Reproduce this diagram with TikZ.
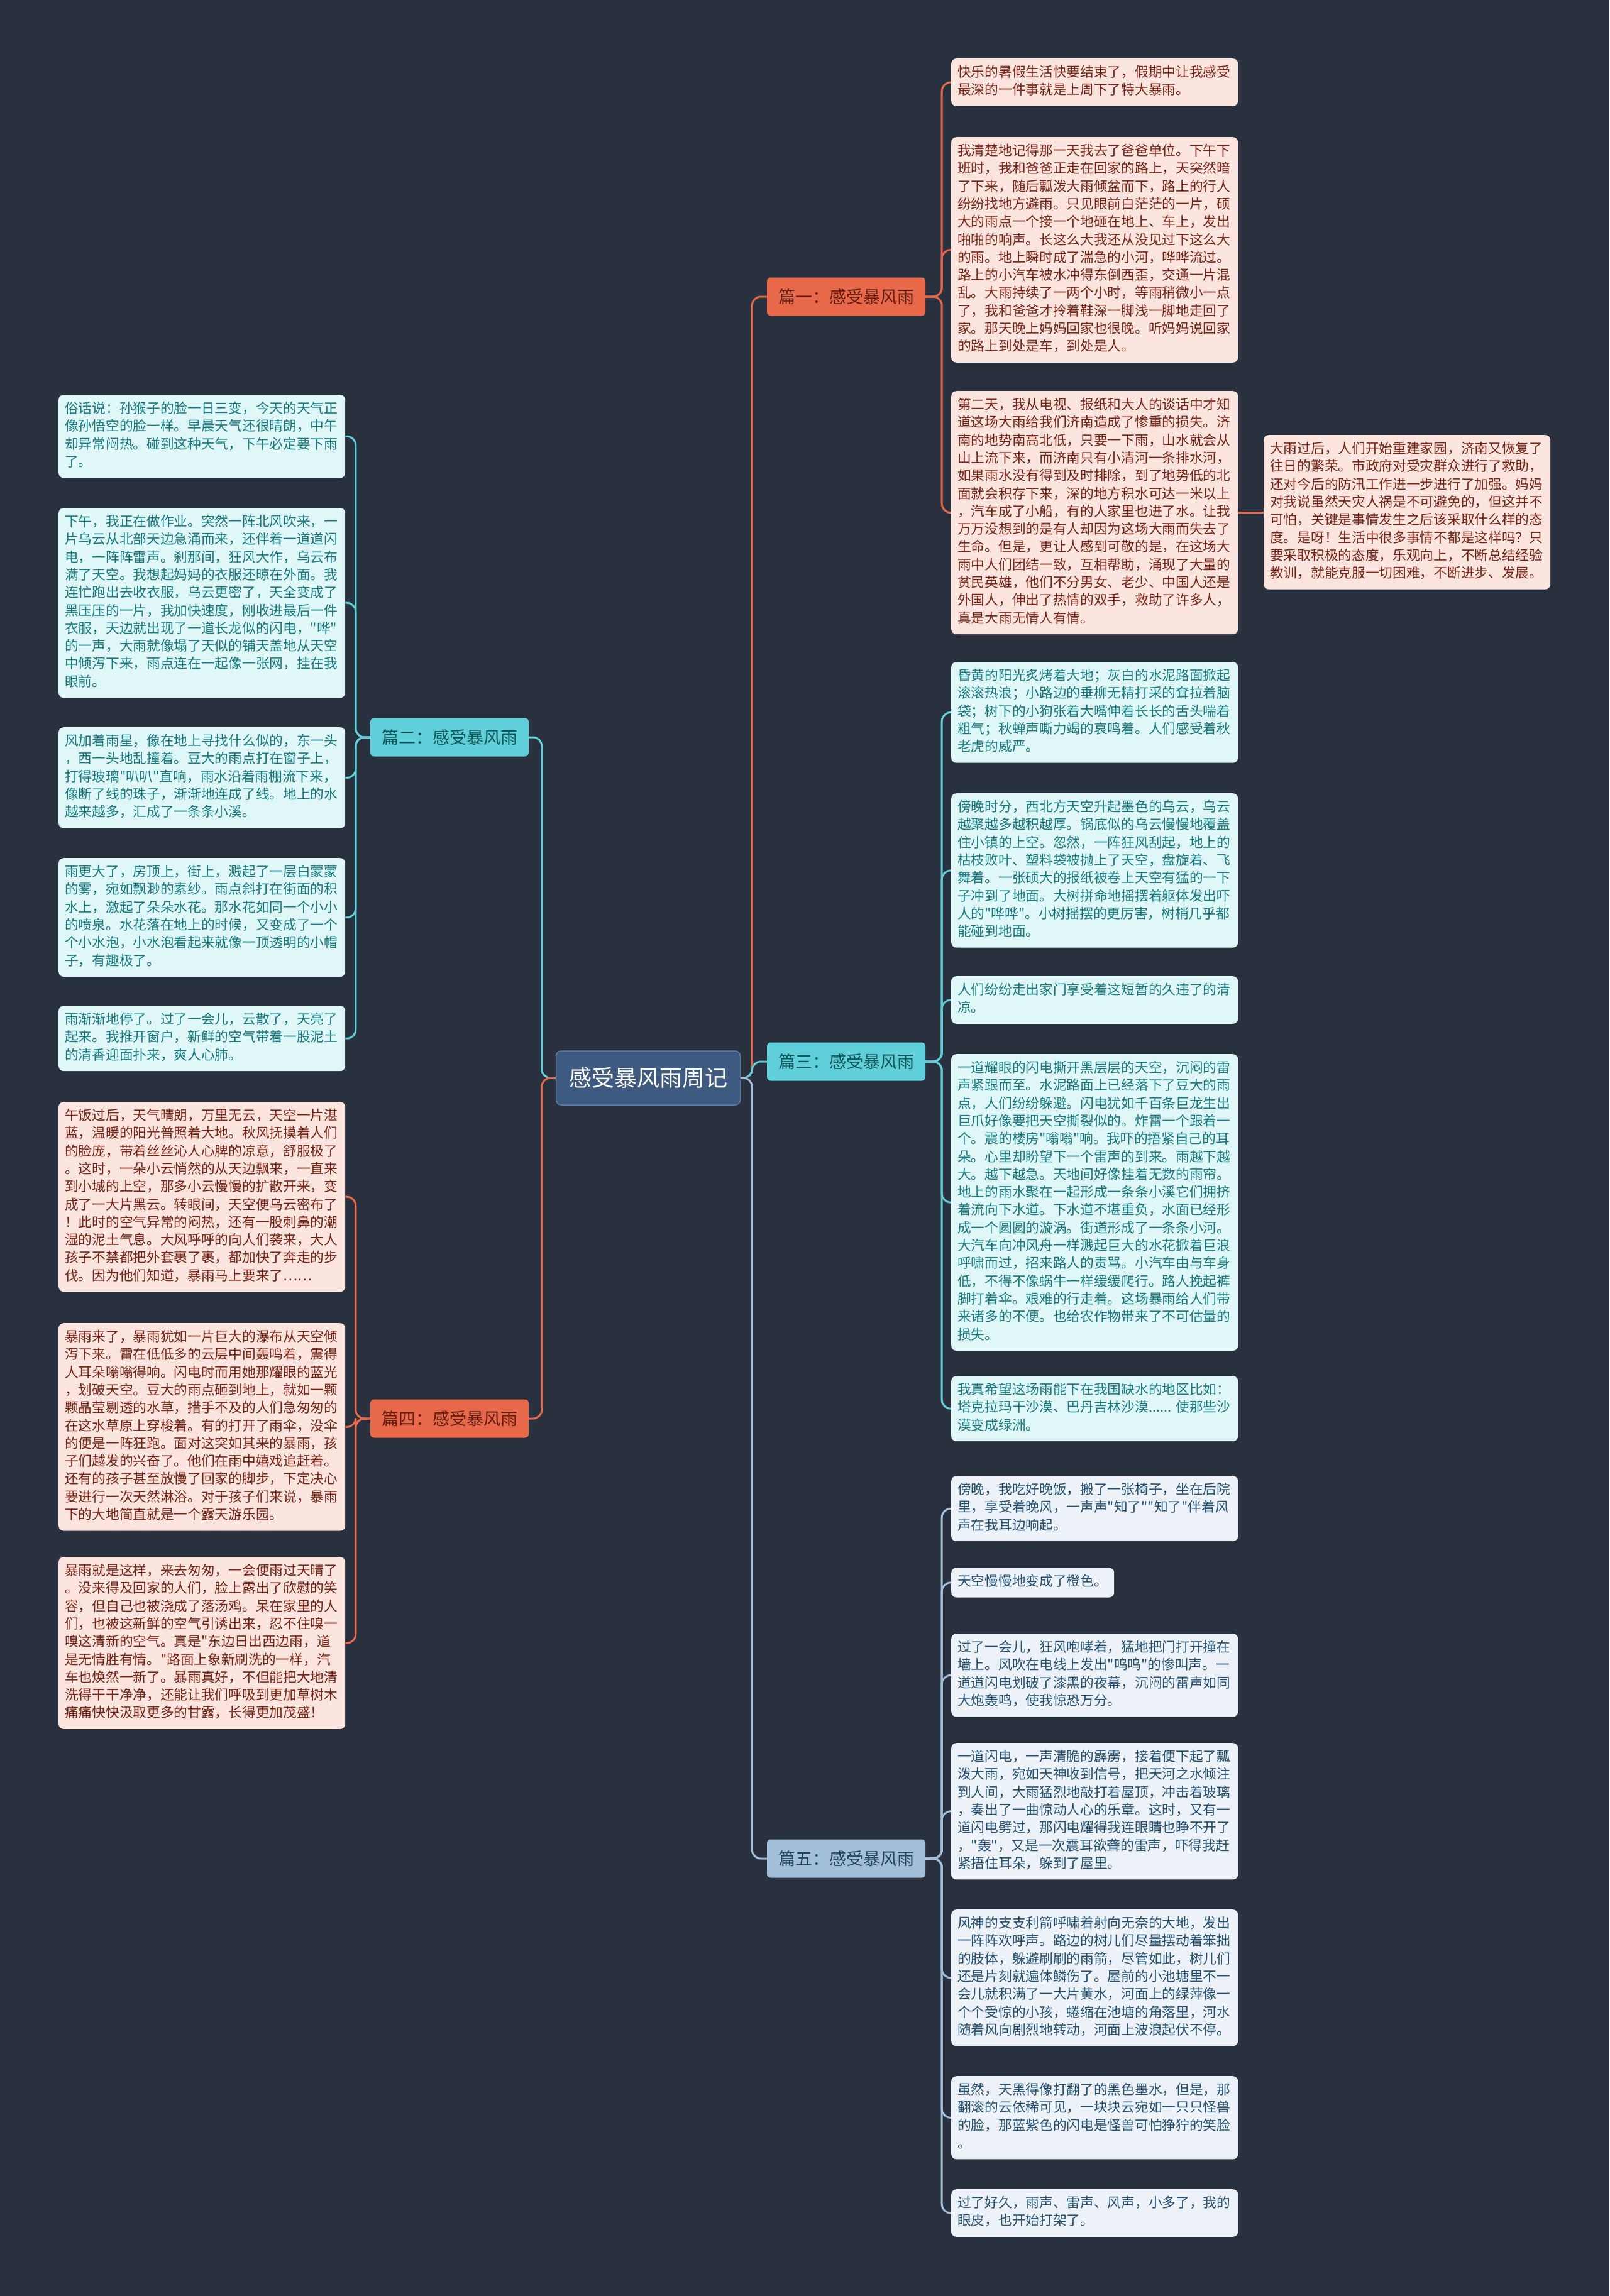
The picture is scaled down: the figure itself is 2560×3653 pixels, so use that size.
\documentclass[tikz,border=0pt]{standalone}
\usepackage{fontspec}
\newfontfamily\cjk{Noto Sans CJK SC}
\definecolor{bg}{HTML}{29313F}
\definecolor{corange}{HTML}{E8694A}
\definecolor{ccyan}{HTML}{5FD0D9}
\definecolor{cblue}{HTML}{A3BFD9}
\definecolor{centerfill}{HTML}{3F5A80}
\definecolor{centerdraw}{HTML}{5C7BA5}
\definecolor{ofill}{HTML}{FCE5DF}
\definecolor{otext}{HTML}{7A2314}
\definecolor{cfill}{HTML}{E0F7F8}
\definecolor{ctext}{HTML}{167A80}
\definecolor{bfill}{HTML}{ECF2F7}
\definecolor{btext}{HTML}{235073}
\tikzset{
  leafbase/.style={rounded corners=8pt, anchor=north west, align=left,
    text width=436pt, inner xsep=10pt, inner ysep=9.5pt,
    font=\cjk\fontsize{21.7pt}{28.3pt}\selectfont,
    execute at begin node=\strut, execute at end node=\strut},
  leafO/.style={leafbase, fill=ofill, text=otext},
  leafC/.style={leafbase, fill=cfill, text=ctext},
  leafB/.style={leafbase, fill=bfill, text=btext},
  branchbase/.style={rounded corners=6pt, minimum width=252pt, minimum height=61pt,
    inner sep=0pt, font=\cjk\fontsize{27pt}{32pt}\selectfont},
  branchO/.style={branchbase, fill=corange, text=otext!80!black},
  branchC/.style={branchbase, fill=ccyan, text=ctext!70!black},
  branchB/.style={branchbase, fill=cblue, text=btext!85!black},
  conn/.style={line width=3pt, rounded corners=14pt},
}
\begin{document}
\begin{tikzpicture}[x=1pt,y=-1pt]
\useasboundingbox (0,0) rectangle (2560,3653);
\fill[bg] (0,0) rectangle (2560,3653);

% center and branches
\node[rounded corners=8pt, fill=centerfill, draw=centerdraw, line width=1.5pt,
  minimum width=293pt, minimum height=86pt, text=white,
  font=\cjk\fontsize{36pt}{40pt}\selectfont] (c) at (1031,1715) {感受暴风雨周记};
\node[branchO] (b1) at (1346,472) {篇一：感受暴风雨};
\node[branchC] (b2) at (715,1173) {篇二：感受暴风雨};
\node[branchC] (b3) at (1346,1689) {篇三：感受暴风雨};
\node[branchO] (b4) at (715,2257) {篇四：感受暴风雨};
\node[branchB] (b5) at (1346,2957) {篇五：感受暴风雨};

% 篇一 leaves
\node[leafO] (L1) at (1513,93) {快乐的暑假生活快要结束了，假期中让我感受\\
最深的一件事就是上周下了特大暴雨。};
\node[leafO] (L2) at (1513,218) {我清楚地记得那一天我去了爸爸单位。下午下\\
班时，我和爸爸正走在回家的路上，天突然暗\\
了下来，随后瓢泼大雨倾盆而下，路上的行人\\
纷纷找地方避雨。只见眼前白茫茫的一片，硕\\
大的雨点一个接一个地砸在地上、车上，发出\\
啪啪的响声。长这么大我还从没见过下这么大\\
的雨。地上瞬时成了湍急的小河，哗哗流过。\\
路上的小汽车被水冲得东倒西歪，交通一片混\\
乱。大雨持续了一两个小时，等雨稍微小一点\\
了，我和爸爸才拎着鞋深一脚浅一脚地走回了\\
家。那天晚上妈妈回家也很晚。听妈妈说回家\\
的路上到处是车，到处是人。};
\node[leafO] (L3) at (1513,622) {第二天，我从电视、报纸和大人的谈话中才知\\
道这场大雨给我们济南造成了惨重的损失。济\\
南的地势南高北低，只要一下雨，山水就会从\\
山上流下来，而济南只有小清河一条排水河，\\
如果雨水没有得到及时排除，到了地势低的北\\
面就会积存下来，深的地方积水可达一米以上\\
，汽车成了小船，有的人家里也进了水。让我\\
万万没想到的是有人却因为这场大雨而失去了\\
生命。但是，更让人感到可敬的是，在这场大\\
雨中人们团结一致，互相帮助，涌现了大量的\\
贫民英雄，他们不分男女、老少、中国人还是\\
外国人，伸出了热情的双手，救助了许多人，\\
真是大雨无情人有情。};
\node[leafO] (R1) at (2010,692) {大雨过后，人们开始重建家园，济南又恢复了\\
往日的繁荣。市政府对受灾群众进行了救助，\\
还对今后的防汛工作进一步进行了加强。妈妈\\
对我说虽然天灾人祸是不可避免的，但这并不\\
可怕，关键是事情发生之后该采取什么样的态\\
度。是呀！生活中很多事情不都是这样吗？只\\
要采取积极的态度，乐观向上，不断总结经验\\
教训，就能克服一切困难，不断进步、发展。};

% 篇二 leaves
\node[leafC] (A1) at (93,628) {俗话说：孙猴子的脸一日三变，今天的天气正\\
像孙悟空的脸一样。早晨天气还很晴朗，中午\\
却异常闷热。碰到这种天气，下午必定要下雨\\
了。};
\node[leafC] (A2) at (93,808) {下午，我正在做作业。突然一阵北风吹来，一\\
片乌云从北部天边急涌而来，还伴着一道道闪\\
电，一阵阵雷声。刹那间，狂风大作，乌云布\\
满了天空。我想起妈妈的衣服还晾在外面。我\\
连忙跑出去收衣服，乌云更密了，天全变成了\\
黑压压的一片，我加快速度，刚收进最后一件\\
衣服，天边就出现了一道长龙似的闪电，"哗"\\
的一声，大雨就像塌了天似的铺天盖地从天空\\
中倾泻下来，雨点连在一起像一张网，挂在我\\
眼前。};
\node[leafC] (A3) at (93,1157) {风加着雨星，像在地上寻找什么似的，东一头\\
，西一头地乱撞着。豆大的雨点打在窗子上，\\
打得玻璃"叭叭"直响，雨水沿着雨棚流下来，\\
像断了线的珠子，渐渐地连成了线。地上的水\\
越来越多，汇成了一条条小溪。};
\node[leafC] (A4) at (93,1365) {雨更大了，房顶上，街上，溅起了一层白蒙蒙\\
的雾，宛如飘渺的素纱。雨点斜打在街面的积\\
水上，激起了朵朵水花。那水花如同一个小小\\
的喷泉。水花落在地上的时候，又变成了一个\\
个小水泡，小水泡看起来就像一顶透明的小帽\\
子，有趣极了。};
\node[leafC] (A5) at (93,1600) {雨渐渐地停了。过了一会儿，云散了，天亮了\\
起来。我推开窗户，新鲜的空气带着一股泥土\\
的清香迎面扑来，爽人心肺。};

% 篇四 leaves
\node[leafO] (B1) at (93,1753) {午饭过后，天气晴朗，万里无云，天空一片湛\\
蓝，温暖的阳光普照着大地。秋风抚摸着人们\\
的脸庞，带着丝丝沁人心脾的凉意，舒服极了\\
。这时，一朵小云悄然的从天边飘来，一直来\\
到小城的上空，那多小云慢慢的扩散开来，变\\
成了一大片黑云。转眼间，天空便乌云密布了\\
！此时的空气异常的闷热，还有一股刺鼻的潮\\
湿的泥土气息。大风呼呼的向人们袭来，大人\\
孩子不禁都把外套裹了裹，都加快了奔走的步\\
伐。因为他们知道，暴雨马上要来了……};
\node[leafO] (B2) at (93,2105) {暴雨来了，暴雨犹如一片巨大的瀑布从天空倾\\
泻下来。雷在低低多的云层中间轰鸣着，震得\\
人耳朵嗡嗡得响。闪电时而用她那耀眼的蓝光\\
，划破天空。豆大的雨点砸到地上，就如一颗\\
颗晶莹剔透的水草，措手不及的人们急匆匆的\\
在这水草原上穿梭着。有的打开了雨伞，没伞\\
的便是一阵狂跑。面对这突如其来的暴雨，孩\\
子们越发的兴奋了。他们在雨中嬉戏追赶着。\\
还有的孩子甚至放慢了回家的脚步，下定决心\\
要进行一次天然淋浴。对于孩子们来说，暴雨\\
下的大地简直就是一个露天游乐园。};
\node[leafO] (B3) at (93,2477) {暴雨就是这样，来去匆匆，一会便雨过天晴了\\
。没来得及回家的人们，脸上露出了欣慰的笑\\
容，但自己也被浇成了落汤鸡。呆在家里的人\\
们，也被这新鲜的空气引诱出来，忍不住嗅一\\
嗅这清新的空气。真是"东边日出西边雨，道\\
是无情胜有情。"路面上象新刷洗的一样，汽\\
车也焕然一新了。暴雨真好，不但能把大地清\\
洗得干干净净，还能让我们呼吸到更加草树木\\
痛痛快快汲取更多的甘露，长得更加茂盛！};

% 篇三 leaves
\node[leafC] (C1) at (1513,1053) {昏黄的阳光炙烤着大地；灰白的水泥路面掀起\\
滚滚热浪；小路边的垂柳无精打采的耷拉着脑\\
袋；树下的小狗张着大嘴伸着长长的舌头喘着\\
粗气；秋蝉声嘶力竭的哀鸣着。人们感受着秋\\
老虎的威严。};
\node[leafC] (C2) at (1513,1262) {傍晚时分，西北方天空升起墨色的乌云，乌云\\
越聚越多越积越厚。锅底似的乌云慢慢地覆盖\\
住小镇的上空。忽然，一阵狂风刮起，地上的\\
枯枝败叶、塑料袋被抛上了天空，盘旋着、飞\\
舞着。一张硕大的报纸被卷上天空有猛的一下\\
子冲到了地面。大树拼命地摇摆着躯体发出吓\\
人的"哗哗"。小树摇摆的更厉害，树梢几乎都\\
能碰到地面。};
\node[leafC] (C3) at (1513,1553) {人们纷纷走出家门享受着这短暂的久违了的清\\
凉。};
\node[leafC] (C4) at (1513,1677) {一道耀眼的闪电撕开黑层层的天空，沉闷的雷\\
声紧跟而至。水泥路面上已经落下了豆大的雨\\
点，人们纷纷躲避。闪电犹如千百条巨龙生出\\
巨爪好像要把天空撕裂似的。炸雷一个跟着一\\
个。震的楼房"嗡嗡"响。我吓的捂紧自己的耳\\
朵。心里却盼望下一个雷声的到来。雨越下越\\
大。越下越急。天地间好像挂着无数的雨帘。\\
地上的雨水聚在一起形成一条条小溪它们拥挤\\
着流向下水道。下水道不堪重负，水面已经形\\
成一个圆圆的漩涡。街道形成了一条条小河。\\
大汽车向冲风舟一样溅起巨大的水花掀着巨浪\\
呼啸而过，招来路人的责骂。小汽车由与车身\\
低，不得不像蜗牛一样缓缓爬行。路人挽起裤\\
脚打着伞。艰难的行走着。这场暴雨给人们带\\
来诸多的不便。也给农作物带来了不可估量的\\
损失。};
\node[leafC] (C5) at (1513,2189) {我真希望这场雨能下在我国缺水的地区比如：\\
塔克拉玛干沙漠、巴丹吉林沙漠......~使那些沙\\
漠变成绿洲。};

% 篇五 leaves
\node[leafB] (D1) at (1513,2348) {傍晚，我吃好晚饭，搬了一张椅子，坐在后院\\
里，享受着晚风，一声声"知了""知了"伴着风\\
声在我耳边响起。};
\node[leafB, text width=239pt] (D2) at (1513,2494) {天空慢慢地变成了橙色。};
\node[leafB] (D3) at (1513,2599) {过了一会儿，狂风咆哮着，猛地把门打开撞在\\
墙上。风吹在电线上发出"呜呜"的惨叫声。一\\
道道闪电划破了漆黑的夜幕，沉闷的雷声如同\\
大炮轰鸣，使我惊恐万分。};
\node[leafB] (D4) at (1513,2773) {一道闪电，一声清脆的霹雳，接着便下起了瓢\\
泼大雨，宛如天神收到信号，把天河之水倾注\\
到人间，大雨猛烈地敲打着屋顶，冲击着玻璃\\
，奏出了一曲惊动人心的乐章。这时，又有一\\
道闪电劈过，那闪电耀得我连眼睛也睁不开了\\
，"轰"，又是一次震耳欲聋的雷声，吓得我赶\\
紧捂住耳朵，躲到了屋里。};
\node[leafB] (D5) at (1513,3038) {风神的支支利箭呼啸着射向无奈的大地，发出\\
一阵阵欢呼声。路边的树儿们尽量摆动着笨拙\\
的肢体，躲避刷刷的雨箭，尽管如此，树儿们\\
还是片刻就遍体鳞伤了。屋前的小池塘里不一\\
会儿就积满了一大片黄水，河面上的绿萍像一\\
个个受惊的小孩，蜷缩在池塘的角落里，河水\\
随着风向剧烈地转动，河面上波浪起伏不停。};
\node[leafB] (D6) at (1513,3303) {虽然，天黑得像打翻了的黑色墨水，但是，那\\
翻滚的云依稀可见，一块块云宛如一只只怪兽\\
的脸，那蓝紫色的闪电是怪兽可怕狰狞的笑脸\\
。};
\node[leafB] (D7) at (1513,3483) {过了好久，雨声、雷声、风声，小多了，我的\\
眼皮，也开始打架了。};

% connectors: center to branches
\draw[conn, corange] (c.east) -- ++(18,0) |- (b1.west);
\draw[conn, ccyan] (c.east) -- ++(18,0) |- (b3.west);
\draw[conn, cblue] (c.east) -- ++(18,0) |- (b5.west);
\draw[conn, ccyan] (c.west) -- ++(-22,0) |- (b2.east);
\draw[conn, corange] (c.west) -- ++(-22,0) |- (b4.east);

% branch to leaves
\foreach \n in {L1,L2,L3} \draw[conn, corange] (b1.east) -- ++(26,0) |- (\n.west);
\draw[line width=3pt, corange] (L3.east) -- (L3.east -| R1.west);
\foreach \n in {C1,C2,C3,C4,C5} \draw[conn, ccyan] (b3.east) -- ++(26,0) |- (\n.west);
\foreach \n in {D1,D2,D3,D4,D5,D6,D7} \draw[conn, cblue] (b5.east) -- ++(26,0) |- (\n.west);
\foreach \n in {A1,A2,A3,A4,A5} \draw[conn, ccyan] (b2.west) -- ++(-23,0) |- (\n.east);
\foreach \n in {B1,B2,B3} \draw[conn, corange] (b4.west) -- ++(-23,0) |- (\n.east);
\end{tikzpicture}
\end{document}
